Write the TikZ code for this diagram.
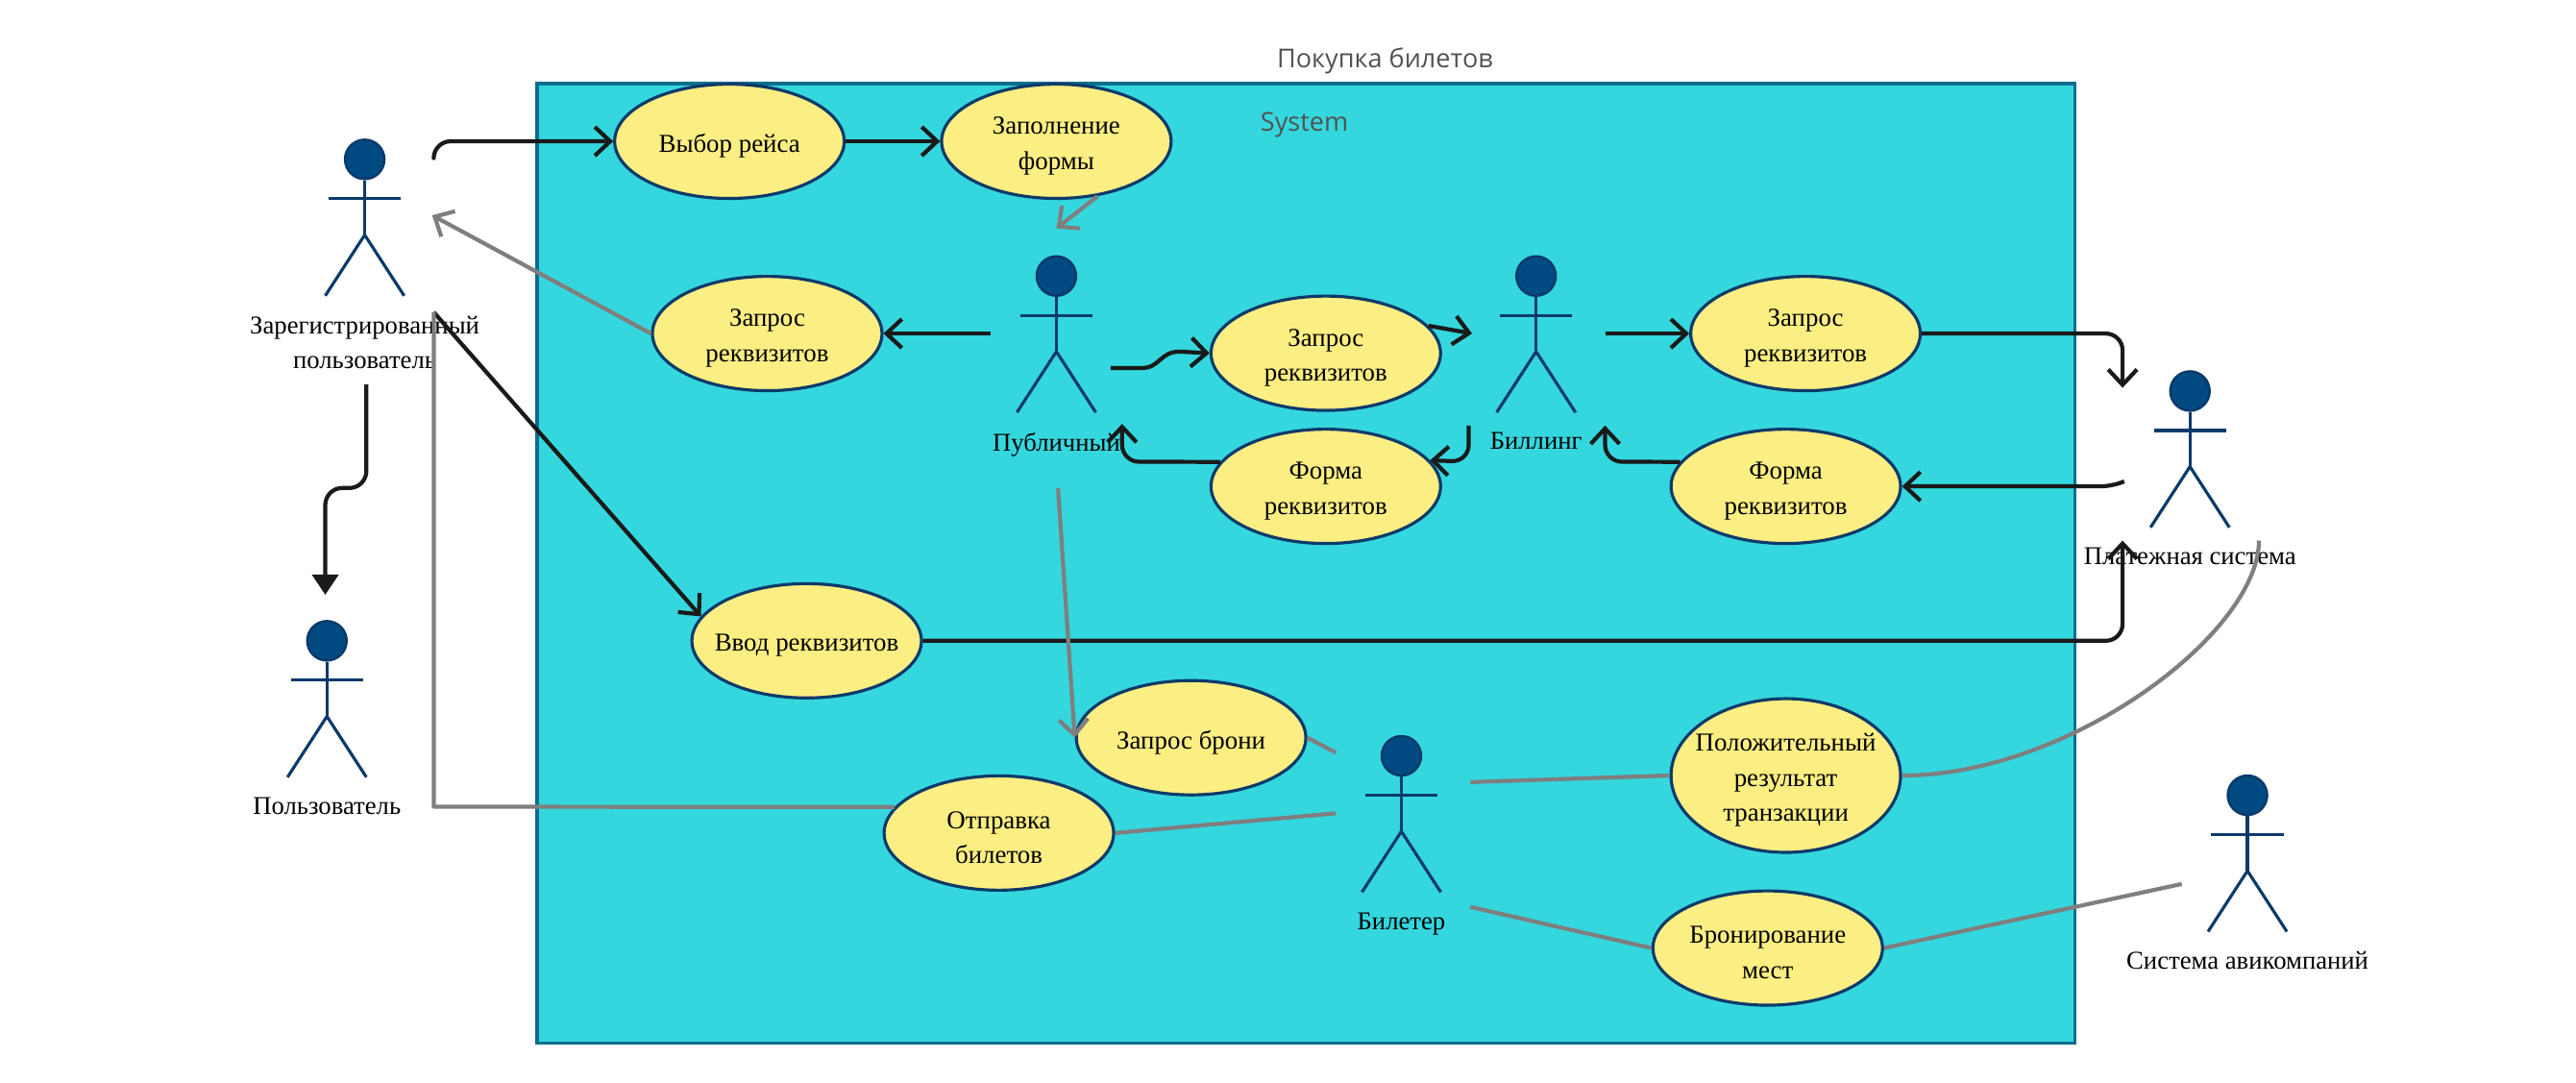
\documentclass[tikz,border=0pt]{standalone}
\usepackage{fontspec}
\setmainfont{Liberation Serif}
\newfontfamily\capfont{Open Sans}
\usetikzlibrary{arrows.meta,shapes.geometric}
\definecolor{sysfill}{HTML}{35D7DE}
\definecolor{sysline}{HTML}{0A6E8E}
\definecolor{usefill}{HTML}{FBEE82}
\definecolor{useline}{HTML}{0B3A6A}
\definecolor{headfill}{HTML}{004A82}
\definecolor{darkline}{HTML}{1A1A1A}
\definecolor{greyline}{HTML}{7F7F7F}
\tikzset{
	usecase/.style={ellipse,draw=useline,fill=usefill,line width=0.9pt,minimum width=2.39cm,minimum height=1.19cm,inner sep=0pt},
	usetext/.style={align=center,inner sep=0pt,yshift=-0.05cm,font=\fontsize{7.65}{10.4}\selectfont},
	actorhead/.style={circle,draw=useline,fill=headfill,line width=0.7pt,minimum size=0.41cm,inner sep=0pt},
	actorbody/.style={draw=useline,line width=0.9pt},
	actorname/.style={align=center,inner sep=0pt,font=\fontsize{7.6}{10.4}\selectfont},
	caption/.style={inner sep=0pt,text=black!68,font=\capfont\fontsize{7.7}{10}\selectfont},
	solid link/.style={draw=darkline,line width=1.2pt,line join=round,-{Straight Barb[length=0.16cm,width=0.3cm,line width=1.2pt]}},
	grey link/.style={draw=greyline,line width=1.2pt,line join=round},
	grey arrow/.style={grey link,-{Straight Barb[length=0.16cm,width=0.3cm,line width=1.2pt]}}
}
\newcommand{\usecase}[5][]{
	\node[usecase,#1,label={[usetext]center:#5}] (#2) at (#3,#4) {};
}
\newcommand{\actor}[5]{
	\node[actorhead] (#1) at (#2,#3) {};
	\draw[actorbody] (#1.south) -- (#2,#3+46) (#2-22,#3+24) -- (#2+22,#3+24);
	\draw[actorbody] (#2-24,#3+83) -- (#2,#3+46) -- (#2+24,#3+83);
	\node[actorname,anchor=north] (#1name) at (#2,#3+#4) {#5};
}
\begin{document}
\begin{tikzpicture}[x=0.0171cm,y=-0.0171cm]
\useasboundingbox (0,0) rectangle (1568,659);
\node[caption] (title) at (843,37) {Покупка билетов};
\fill[sysfill] (327,51) rectangle (1263,635);
\draw[sysline,line width=1pt] (327,51) rectangle (1263,635);
\node[caption] (system) at (794,76) {System};

\usecase{vybor}{444}{86}{Выбор рейса}
\usecase{zapoln}{643}{86}{Заполнение\\формы}
\usecase{zapros}{467}{203}{Запрос\\реквизитов}
\usecase{zaprosb}{807}{215}{Запрос\\реквизитов}
\usecase{zaprosc}{1099}{203}{Запрос\\реквизитов}
\usecase{forma}{807}{296}{Форма\\реквизитов}
\usecase{formb}{1087}{296}{Форма\\реквизитов}
\usecase{vvod}{491}{390}{Ввод реквизитов}
\usecase{bron}{725}{449}{Запрос брони}
\usecase{otpr}{608}{507}{Отправка\\билетов}
\usecase[minimum height=1.6cm]{polozh}{1087}{472}{Положительный\\результат\\транзакции}
\usecase{mest}{1076}{577}{Бронирование\\мест}

\actor{reg}{222}{97}{95}{Зарегистрированный\\пользователь}
\actor{user}{199}{390}{95}{Пользователь}
\actor{pub}{643}{168}{95}{Публичный}
\actor{bill}{935}{168}{95}{Биллинг}
\actor{pay}{1333}{238}{95}{Платежная система}
\actor{kass}{853}{460}{95}{Билетер}
\actor{avia}{1368}{484}{95}{Система авикомпаний}

\coordinate (regout) at (264,96);
\coordinate (regin) at (263,131);
\coordinate (regdown) at (264,190);
\coordinate (regfoot) at (223,234);
\coordinate (userin) at (198,362);
\coordinate (publeft) at (603,203);
\coordinate (pubright) at (676,224);
\coordinate (pubin) at (683,258);
\coordinate (pubtop) at (643,139);
\coordinate (pubfoot) at (644,297);
\coordinate (billin) at (896,203);
\coordinate (billout) at (977,203);
\coordinate (billleft) at (894,259);
\coordinate (billright) at (977,259);
\coordinate (paytop) at (1292,236);
\coordinate (payleft) at (1293,293);
\coordinate (paybot) at (1292,329);
\coordinate (paycurve) at (1375,329);
\coordinate (kassa) at (813,458);
\coordinate (kassb) at (813,495);
\coordinate (kassc) at (895,476);
\coordinate (kassd) at (895,552);
\coordinate (aviain) at (1328,538);

\draw[solid link,rounded corners=5pt] (regout) -- (264,86) -- (vybor.west);
\draw[solid link] (vybor) -- (zapoln);
\draw[grey arrow] (zapoln.-53) -- (pubtop);
\draw[solid link] (publeft) -- (zapros.east);
\draw[grey arrow] (zapros.west) -- (regin);
\draw[solid link] (pubright) -- (695,224) .. controls (706,224) and (706,214) .. (718,214) -- (zaprosb.west);
\draw[solid link] (zaprosb.15) -- (billin);
\draw[solid link] (billout) -- (zaprosc.west);
\draw[solid link,rounded corners=5pt] (billleft) -- (894,281) -- (forma.14);
\draw[solid link,rounded corners=5pt] (forma.167) -- (683,281) -- (pubin);
\draw[solid link,rounded corners=5pt] (formb.167) -- (977,281) -- (billright);
\draw[solid link,rounded corners=5pt] (zaprosc.east) -- (1292,203) -- (paytop);
\draw[solid link,rounded corners=3pt] (payleft) -- (1285,296) -- (formb.east);
\draw[solid link,rounded corners=5pt] (vvod.east) -- (1292,390) -- (paybot);
\draw[solid link,-{Triangle[length=0.21cm,width=0.27cm]},rounded corners=5pt] (regfoot) -- (223,297) -- (198,297) -- (userin);
\draw[solid link] (regdown) -- (vvod.167);
\draw[grey arrow] (pubfoot) -- (bron.west);
\draw[grey link] (otpr.166) -- (264,491) -- (regdown);
\draw[grey link] (bron.east) -- (kassa);
\draw[grey link] (otpr.east) -- (kassb);
\draw[grey link] (kassc) -- (polozh.west);
\draw[grey link] (polozh.east) .. controls (1260,472) and (1375,385) .. (paycurve);
\draw[grey link] (kassd) -- (mest.west);
\draw[grey link] (mest.east) -- (aviain);
\end{tikzpicture}
\end{document}
